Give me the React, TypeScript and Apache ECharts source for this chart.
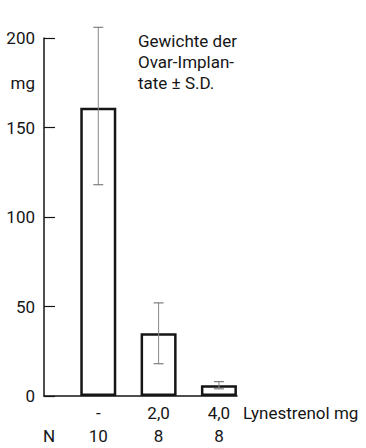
import React, { useEffect, useRef } from "react";
import * as echarts from "echarts";

const positions = [1, 2, 3];
const doseLabels = ["-", "2,0", "4,0"];
const nLabels = ["10", "8", "8"];
const means = [161, 35, 6];
const lowValues = [118, 18, 4];
const highValues = [206, 52, 8];
const yTicks = [0, 50, 100, 150, 200];
const yUnitValue = 175;
const yUnitLabel = "mg";
const titleLines = ["Gewichte der", "Ovar-Implan-", "tate ± S.D."];
const xName = "Lynestrenol mg";
const nHeader = "N";

const FONT = "Roboto, 'Liberation Sans', sans-serif";
const INK = "#151515";

export default function App() {
  const ref = useRef<HTMLDivElement>(null);
  useEffect(() => {
    document.body.style.margin = "0";
    if (!ref.current) return;
    const chart = echarts.init(ref.current, undefined, { renderer: "svg" });
    const barData = positions.map((p, i) => [p, means[i]]);
    const errData = positions.map((p, i) => [p, lowValues[i], highValues[i]]);
    chart.setOption({
      animation: false,
      backgroundColor: "#ffffff",
      textStyle: { fontFamily: FONT, color: INK },
      title: {
        text: titleLines.join("\n"),
        left: 138,
        top: 30,
        padding: 0,
        textStyle: { fontFamily: FONT, fontSize: 17, fontWeight: "normal", color: INK, lineHeight: 21 },
      },
      grid: { left: 44, top: 38, bottom: 52, right: 129, containLabel: false },
      xAxis: {
        type: "value",
        min: 0.1,
        max: 3.3,
        splitLine: { show: false },
        axisTick: { show: false },
        axisLine: { show: true, lineStyle: { color: INK, width: 1.5 } },
        axisLabel: {
          customValues: positions,
          margin: 5,
          fontSize: 17,
          lineHeight: 23,
          color: INK,
          fontFamily: FONT,
          formatter: (v: number) => {
            const i = positions.indexOf(Math.round(v));
            return i >= 0 ? doseLabels[i] + "\n" + nLabels[i] : "";
          },
        },
        name: xName,
        nameLocation: "end",
        nameGap: 6,
        nameTextStyle: {
          fontSize: 17,
          color: INK,
          fontFamily: FONT,
          verticalAlign: "top",
          align: "left",
          lineHeight: 23,
          padding: [5, 0, 0, 0],
        },
      },
      yAxis: {
        type: "value",
        min: 0,
        max: 200,
        interval: 50,
        splitLine: { show: false },
        axisLine: { show: true, lineStyle: { color: INK, width: 1.5 } },
        axisTick: { show: true, inside: true, length: 11, customValues: yTicks, lineStyle: { color: INK, width: 1.2 } },
        axisLabel: {
          customValues: [...yTicks, yUnitValue],
          margin: 9,
          fontSize: 17,
          color: INK,
          fontFamily: FONT,
          formatter: (v: number) => (v === yUnitValue ? yUnitLabel : String(v)),
        },
      },
      graphic: [
        {
          type: "text",
          left: 43,
          top: 427,
          style: { text: nHeader, fontSize: 17, fill: INK, fontFamily: FONT },
        },
      ],
      series: [
        {
          type: "bar",
          data: barData,
          barWidth: 36,
          itemStyle: { color: "#ffffff", borderColor: INK, borderWidth: 2.5 },
          z: 2,
        },
        {
          type: "custom",
          data: errData,
          z: 3,
          renderItem: (params: any, api: any) => {
            const x = api.value(0);
            const lo = api.coord([x, api.value(1)]);
            const hi = api.coord([x, api.value(2)]);
            const half = 5;
            const style = { stroke: "#666", lineWidth: 1 };
            return {
              type: "group",
              children: [
                { type: "line", shape: { x1: lo[0], y1: lo[1], x2: hi[0], y2: hi[1] }, style: { stroke: "#888", lineWidth: 1 } },
                { type: "line", shape: { x1: hi[0] - half, y1: hi[1], x2: hi[0] + half, y2: hi[1] }, style },
                { type: "line", shape: { x1: lo[0] - half, y1: lo[1], x2: lo[0] + half, y2: lo[1] }, style },
              ],
            };
          },
        },
      ],
    });
    return () => chart.dispose();
  }, []);
  return <div ref={ref} style={{ width: 366, height: 448 }} />;
}
